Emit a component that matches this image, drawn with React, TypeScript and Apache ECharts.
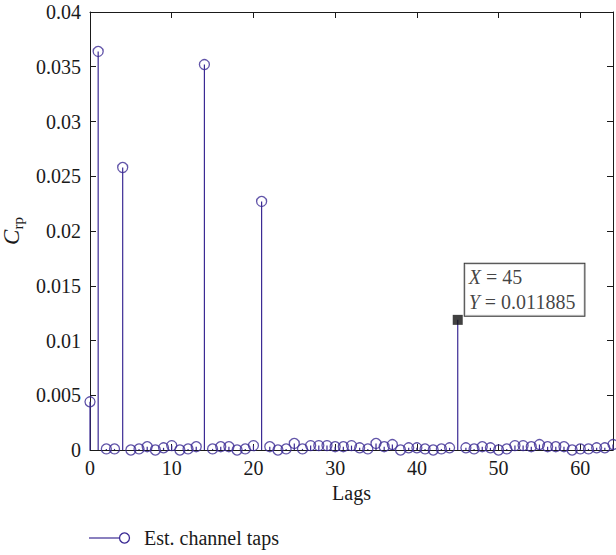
import React, { useEffect, useRef } from "react";
import * as echarts from "echarts";

const lags: number[] = Array.from({ length: 65 }, (_, i) => i);
const taps: number[] = [
  0.0044, 0.0364, 0.0001, 0.0001, 0.0258, 0.0, 0.0001, 0.0003, 0.0, 0.0002,
  0.0004, 0.0, 0.0001, 0.0003, 0.0352, 0.0001, 0.0003, 0.0003, 0.0, 0.0001,
  0.0004, 0.0227, 0.0003, 0.0, 0.0001, 0.0006, 0.0001, 0.0004, 0.0004, 0.0004,
  0.0003, 0.0003, 0.0004, 0.0002, 0.0001, 0.0006, 0.0003, 0.0005, 0.0, 0.0002,
  0.0002, 0.0001, 0.0, 0.0001, 0.0002, 0.011885, 0.0002, 0.0001, 0.0003, 0.0002,
  0.0, 0.0001, 0.0004, 0.0004, 0.0003, 0.0005, 0.0003, 0.0003, 0.0003, 0.0,
  0.0001, 0.0001, 0.0002, 0.0002, 0.0005,
];
const tipLag = 45;
const tipValue = 0.011885;
const seriesName = "Est. channel taps";
const xTicks = [0, 10, 20, 30, 40, 50, 60];

const COLOR = "#3b2a94";
const AXIS = "#1a1a1a";
const FONT = "Liberation Serif";
const FS = 20;

export default function App() {
  const ref = useRef<HTMLDivElement>(null);
  useEffect(() => {
    document.body.style.margin = "0";
    const chart = echarts.init(ref.current!, undefined, { renderer: "svg" });
    const pts = lags.map((x, i) => [x, taps[i]]);
    const markerPts = pts.filter((p) => p[0] !== tipLag);
    const tick = () => ({ show: true, inside: true, length: 6, lineStyle: { color: AXIS, width: 1 } });
    const line = () => ({ show: true, onZero: false, lineStyle: { color: AXIS, width: 1 } });
    chart.setOption({
      animation: false,
      backgroundColor: "#fff",
      textStyle: { fontFamily: FONT },
      grid: { left: 90, right: 3, top: 12, bottom: 105, outerBoundsMode: "none", containLabel: false },
      xAxis: [
        {
          type: "value",
          position: "bottom",
          min: 0,
          max: 64,
          interval: 10,
          name: "Lags",
          nameLocation: "middle",
          nameGap: 31,
          nameTextStyle: { fontFamily: FONT, fontSize: FS, color: AXIS },
          axisLine: line(),
          axisTick: tick(),
          axisLabel: {
            fontFamily: FONT,
            fontSize: FS,
            color: AXIS,
            margin: 8,
            formatter: (v: number) => (xTicks.includes(v) ? String(v) : ""),
          },
          splitLine: { show: false },
        },
        {
          type: "value",
          position: "top",
          min: 0,
          max: 64,
          interval: 10,
          axisLine: line(),
          axisTick: tick(),
          axisLabel: { show: false },
          splitLine: { show: false },
        },
      ],
      yAxis: [
        {
          type: "value",
          position: "left",
          min: 0,
          max: 0.04,
          interval: 0.005,
          name: "{c|C}{s|rp}",
          nameLocation: "middle",
          nameRotate: 90,
          nameGap: 57,
          nameTextStyle: {
            rich: {
              c: { fontFamily: FONT, fontSize: 23, fontStyle: "italic", color: AXIS },
              s: { fontFamily: FONT, fontSize: 15, color: AXIS, padding: [12, 0, 0, 0] },
            },
          },
          axisLine: line(),
          axisTick: tick(),
          axisLabel: { fontFamily: FONT, fontSize: FS, color: AXIS, margin: 9 },
          splitLine: { show: false },
        },
        {
          type: "value",
          position: "right",
          min: 0,
          max: 0.04,
          interval: 0.005,
          axisLine: line(),
          axisTick: tick(),
          axisLabel: { show: false },
          splitLine: { show: false },
        },
      ],
      series: [
        {
          type: "custom",
          name: seriesName,
          data: pts,
          clip: false,
          renderItem: (params: any, api: any) => {
            const p0 = api.coord([api.value(0), 0]);
            const p1 = api.coord([api.value(0), api.value(1)]);
            return {
              type: "line",
              shape: { x1: p0[0], y1: p0[1], x2: p1[0], y2: p1[1] },
              style: { stroke: COLOR, lineWidth: 1.2 },
            };
          },
          z: 2,
        },
        {
          type: "scatter",
          data: markerPts,
          symbol: "circle",
          symbolSize: 10,
          itemStyle: { color: "rgba(0,0,0,0)", borderColor: COLOR, borderWidth: 1.3 },
          clip: false,
          z: 3,
        },
        {
          type: "scatter",
          data: [[tipLag, tipValue]],
          symbol: "rect",
          symbolSize: 10,
          itemStyle: { color: "#111" },
          z: 5,
          label: {
            show: true,
            position: [12, -51],
            align: "left",
            verticalAlign: "top",
            formatter: () => `{i|X} = ${tipLag}\n{i|Y} = ${tipValue}`,
            backgroundColor: "#fff",
            borderColor: "#000",
            borderWidth: 1,
            padding: [1, 9, 1, 4],
            lineHeight: 25,
            fontFamily: FONT,
            fontSize: FS,
            color: "#111",
            rich: {
              i: { fontFamily: FONT, fontSize: FS, fontStyle: "italic", color: "#111", lineHeight: 25 },
            },
          },
        },
      ],
      graphic: [
        {
          type: "line",
          shape: { x1: 89, y1: 538, x2: 119.5, y2: 538 },
          style: { stroke: COLOR, lineWidth: 1.2 },
        },
        {
          type: "circle",
          shape: { cx: 124.5, cy: 538, r: 5 },
          style: { fill: "none", stroke: COLOR, lineWidth: 1.3 },
        },
        {
          type: "text",
          x: 144,
          y: 538,
          style: {
            text: seriesName,
            font: `${FS}px "${FONT}"`,
            fill: AXIS,
            verticalAlign: "middle",
          },
        },
      ],
    });
    return () => chart.dispose();
  }, []);
  return <div ref={ref} style={{ width: 616, height: 555 }} />;
}
